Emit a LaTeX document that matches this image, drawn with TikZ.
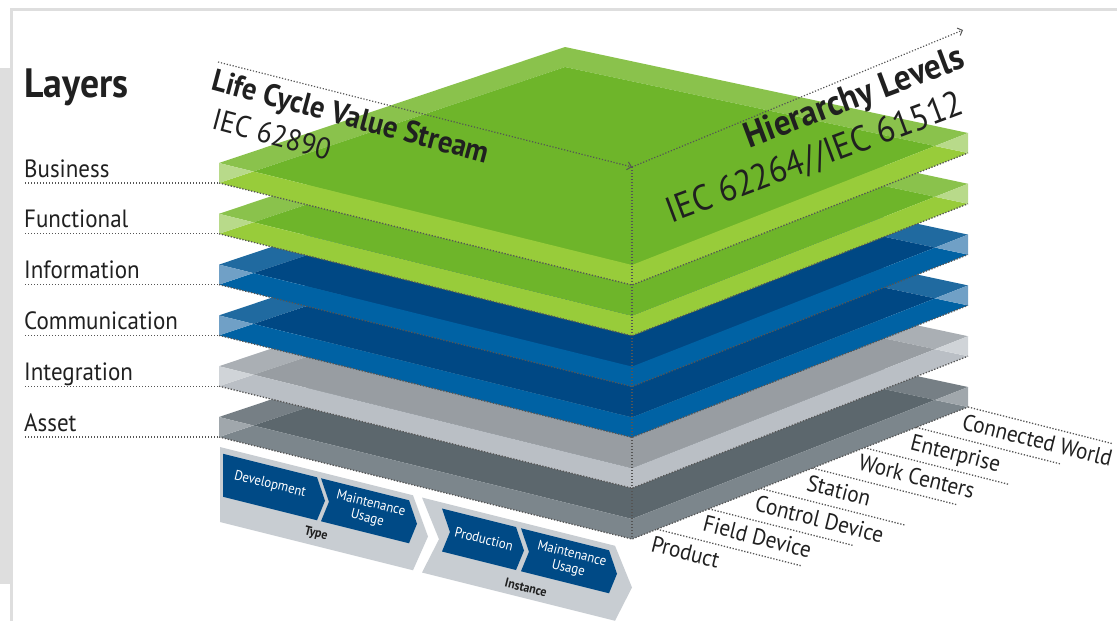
\documentclass[tikz,border=0pt]{standalone}
\usepackage{fontspec}
\setmainfont[FakeStretch=0.92]{PT Sans}
\usetikzlibrary{arrows.meta,positioning,calc}

\definecolor{grnTop}{RGB}{110,181,42}
\definecolor{grnBack}{RGB}{138,194,76}
\definecolor{grnFront}{RGB}{152,204,58}
\definecolor{grnSide}{RGB}{184,218,138}
\definecolor{bluTop}{RGB}{0,72,132}
\definecolor{bluBack}{RGB}{32,106,160}
\definecolor{bluFront}{RGB}{0,98,164}
\definecolor{bluSide}{RGB}{112,160,198}
\definecolor{lgrTop}{RGB}{152,157,162}
\definecolor{lgrBack}{RGB}{170,175,180}
\definecolor{lgrFront}{RGB}{186,191,197}
\definecolor{lgrSide}{RGB}{208,212,216}
\definecolor{dgrTop}{RGB}{92,103,109}
\definecolor{dgrBack}{RGB}{118,127,133}
\definecolor{dgrFront}{RGB}{124,134,140}
\definecolor{dgrSide}{RGB}{160,167,172}
\definecolor{bandGray}{RGB}{200,205,210}
\definecolor{stageBlue}{RGB}{0,74,134}
\definecolor{inkGray}{RGB}{32,32,32}
\definecolor{dotGray}{RGB}{85,85,85}
\definecolor{frameGray}{RGB}{222,222,222}

\tikzset{
    layerlabel/.style = {
        font=\fontsize{25}{27}\selectfont,
        text=inkGray,
        inner sep=0pt
    },
    axistitle/.style = {
        font=\bfseries\fontsize{31}{33}\selectfont,
        text=inkGray,
        inner sep=0pt
    },
    axisnorm/.style = {
        font=\fontsize{30}{32}\selectfont,
        text=inkGray,
        inner sep=0pt
    },
    levellabel/.style = {
        font=\fontsize{23}{25}\selectfont,
        text=inkGray,
        inner sep=0pt,
        rotate=-14.2
    },
    stagetext/.style = {
        font=\fontsize{14}{15}\selectfont,
        text=white,
        align=center,
        inner sep=0pt,
        rotate=-14
    },
    bandtext/.style = {
        font=\bfseries\fontsize{13}{13}\selectfont,
        text=inkGray,
        inner sep=0pt,
        rotate=-14
    },
    edgedots/.style = {
        draw=dotGray,
        line width=1.3pt,
        dash pattern=on 1.3pt off 1.7pt
    },
    axisdots/.style = {
        draw=dotGray,
        line width=1.2pt,
        dash pattern=on 1.2pt off 1.8pt
    },
    tip/.style = {
        -{Straight Barb[length=4pt,width=8pt,line width=1pt]}
    }
}

\begin{document}
\begin{tikzpicture}[x=1pt,y=-1pt]
\useasboundingbox (0,0) rectangle (1117,621);

% frame
\fill[frameGray] (0,68) rectangle (10,584);
\draw[frameGray, line width=3pt] (11,621) -- (11,9) -- (1117,9);

% layer slabs, bottom one first
\foreach \n/\col in {5/dgr,4/lgr,3/blu,2/blu,1/grn,0/grn} {
    \begin{scope}[shift={(0,50.8*\n)}]
        \coordinate (Lt\n) at (219,163);
        \coordinate (Bt\n) at (565,47);
        \coordinate (Rt\n) at (968,133);
        \coordinate (Ft\n) at (632,265);
        \coordinate (Lb\n) at (219,183);
        \coordinate (Bb\n) at (565,67);
        \coordinate (Rb\n) at (968,153);
        \coordinate (Fb\n) at (632,285);
        \coordinate (X\n) at (253.4,171.5);
        \coordinate (Y\n) at (935,146);
        \fill[fill=\col Back] (Lt\n) -- (Bt\n) -- (Rt\n) -- (Y\n) -- (Bb\n) -- (X\n) -- cycle;
        \fill[fill=\col Top] (X\n) -- (Bb\n) -- (Y\n) -- (Ft\n) -- cycle;
        \fill[fill=\col Front] (Lb\n) -- (X\n) -- (Ft\n) -- (Y\n) -- (Rb\n) -- (Fb\n) -- cycle;
        \fill[fill=\col Side] (Lt\n) -- (X\n) -- (Lb\n) -- cycle;
        \fill[fill=\col Side] (Rt\n) -- (Y\n) -- (Rb\n) -- cycle;
        \draw[edgedots] (Lb\n) -- (Fb\n) -- (Rb\n);
    \end{scope}
}

% layer names
\node[anchor=base west, font=\bfseries\fontsize{41}{43}\selectfont, text=inkGray, inner sep=0pt] (layers) at (24,97) {Layers};
\foreach \name [count=\n from 0] in {Business,Functional,Information,Communication,Integration,Asset} {
    \node[layerlabel, anchor=base west] (tag\n) at (24,{177+50.8*\n}) {\name};
    \coordinate (tagEnd\n) at (25,{183+50.8*\n});
    \draw[edgedots] (tagEnd\n) -- (Lb\n);
}

% axes
\coordinate (lcStart) at (218,62);
\coordinate (corner) at (632,167);
\coordinate (hlEnd) at (963,30);
\draw[axisdots, tip] (lcStart) -- (corner);
\draw[axisdots, tip] (corner) -- (hlEnd);
\draw[axisdots] (corner) -- (Fb5);

\node[axistitle, rotate=-15, anchor=north west] (lcTitle) at (216,68) {Life Cycle Value Stream};
\node[axisnorm, rotate=-15, anchor=north west] (lcNorm) at (216,108) {IEC 62890};
\node[axistitle, font=\bfseries\fontsize{36}{38}\selectfont, rotate=20.5, anchor=base east] (hlTitle) at (967,67) {Hierarchy Levels};
\node[axisnorm, font=\fontsize{36}{38}\selectfont, rotate=20.5, anchor=base east] (hlNorm) at (966,113) {IEC 62264//IEC 61512};

% hierarchy levels along the bottom edge
\foreach \name [count=\k from 0] in {Connected World,Enterprise,Work Centers,Station,Control Device,Field Device,Product} {
    \pgfmathsetmacro\fr{0.1543*\k}
    \coordinate (lvl\k) at ($(Rb5)!\fr!(Fb5)$);
    \coordinate (lvlEnd\k) at ($(lvl\k)+(144,36.5)$);
    \draw[edgedots] (lvl\k) -- (lvlEnd\k);
    \node[levellabel, anchor=north west] (lvlText\k) at ($(lvl\k)+(-3,6)$) {\name};
}

% life cycle stages
\begin{scope}[shift={(220,447)}, yslant=-0.25]
    \fill[bandGray] (0,0) -- (193,0) -- (208,37.5) -- (193,75) -- (0,75) -- cycle;
    \fill[bandGray] (202,0) -- (395,0) -- (412,37.5) -- (395,75) -- (202,75) -- (219,37.5) -- cycle;
    \fill[stageBlue] (3,6) -- (97,6) -- (105,27.5) -- (97,49) -- (3,49) -- cycle;
    \fill[stageBlue] (101,6) -- (189,6) -- (197,27.5) -- (189,49) -- (101,49) -- (109,27.5) -- cycle;
    \fill[stageBlue] (222,6) -- (296,6) -- (304,27.5) -- (296,49) -- (222,49) -- (230,27.5) -- cycle;
    \fill[stageBlue] (301,6) -- (389,6) -- (397,27.5) -- (389,49) -- (301,49) -- (309,27.5) -- cycle;
    \node[stagetext] (devText) at (50,25) {Development};
    \node[stagetext] (maintType) at (149,27) {Maintenance\\Usage};
    \node[bandtext] (typeText) at (96,63) {Type};
    \node[stagetext] (prodText) at (264,26) {Production};
    \node[stagetext] (maintInst) at (350,27) {Maintenance\\Usage};
    \node[bandtext] (instText) at (306,64) {Instance};
\end{scope}
\end{tikzpicture}
\end{document}
